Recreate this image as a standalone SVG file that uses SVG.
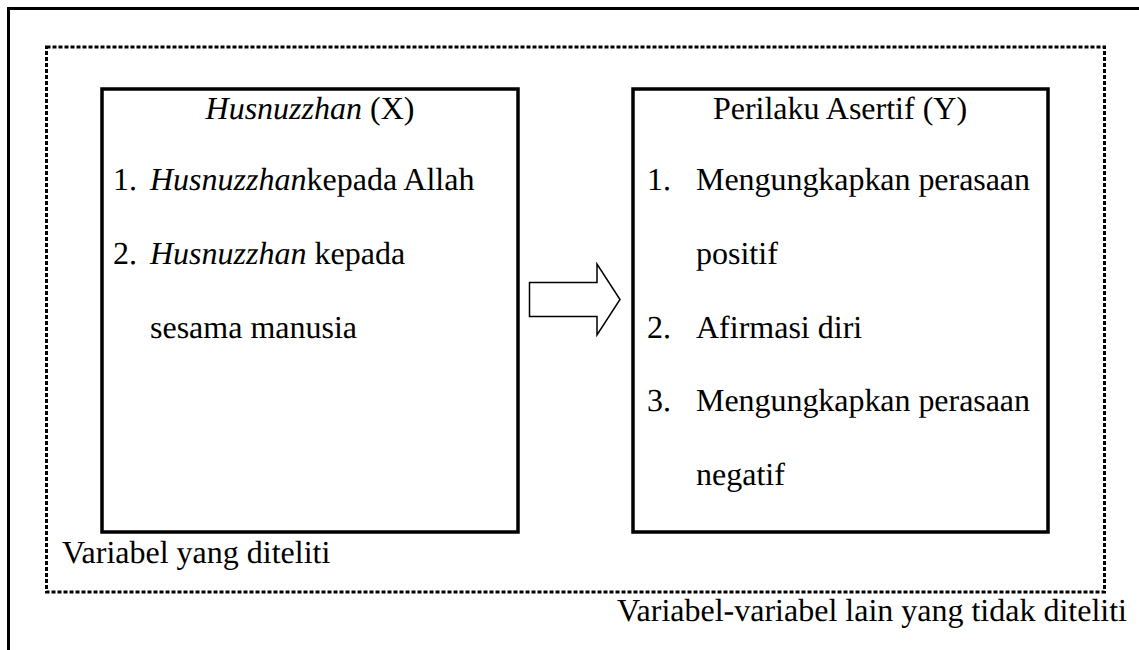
<svg xmlns="http://www.w3.org/2000/svg" width="1139" height="650" viewBox="0 0 1139 650">
<style>
text{font-family:"Liberation Serif","Times New Roman",serif;font-size:32px;fill:#000;text-rendering:geometricPrecision}
.it{font-style:italic}
.box{fill:#fff;stroke:#000;stroke-width:3.5}
.frame{fill:none;stroke:#000;stroke-width:3}
.dots{fill:none;stroke:#000;stroke-width:3;stroke-dasharray:4 2}
</style>
<rect width="1139" height="650" fill="#fff"/>
<g id="page-frame">
<path class="frame" d="M8.5 650 V8.5 H1139"/>
</g>
<g id="scope">
<rect class="dots" x="46.5" y="47" width="1058" height="545"/>
<text x="62" y="563">Variabel yang diteliti</text>
<text x="1127" y="621" text-anchor="end">Variabel-variabel lain yang tidak diteliti</text>
</g>
<g id="node-x">
<rect class="box" x="102" y="89" width="416" height="443"/>
<text x="310" y="119" text-anchor="middle"><tspan class="it">Husnuzzhan</tspan> (X)</text>
<text x="113" y="190">1.</text>
<text x="150" y="190"><tspan class="it">Husnuzzhan</tspan>kepada Allah</text>
<text x="113" y="264">2.</text>
<text x="150" y="264"><tspan class="it">Husnuzzhan</tspan> kepada</text>
<text x="150" y="338">sesama manusia</text>
</g>
<g id="node-y">
<rect class="box" x="633" y="89" width="415" height="443"/>
<text x="840" y="119" text-anchor="middle">Perilaku Asertif (Y)</text>
<text x="647" y="190">1.</text>
<text x="696" y="190" textLength="334" lengthAdjust="spacing">Mengungkapkan perasaan</text>
<text x="696" y="264">positif</text>
<text x="647" y="338">2.</text>
<text x="696" y="338">Afirmasi diri</text>
<text x="647" y="411">3.</text>
<text x="696" y="411" textLength="334" lengthAdjust="spacing">Mengungkapkan perasaan</text>
<text x="696" y="485">negatif</text>
</g>
<g id="connectors">
<polygon points="529.5,282.5 597,282.5 597,264 620,299.5 597,335 597,316.5 529.5,316.5" fill="#fff" stroke="#000" stroke-width="1.5"/>
</g>
</svg>
